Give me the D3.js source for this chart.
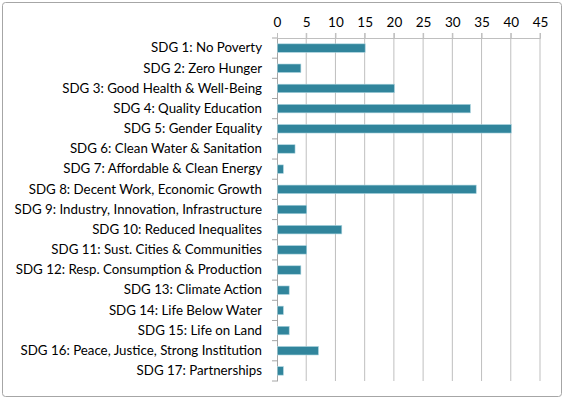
<!DOCTYPE html>
<html>
<head>
<meta charset="utf-8">
<script src="https://cdn.jsdelivr.net/npm/d3@7"></script>
<style>
  body { margin: 0; background: #fff; }
  text { font-family: Lato, "Open Sans", sans-serif; fill: #000; }
</style>
</head>
<body>
<div id="chart"></div>
<script>
const categories = [
  "SDG 1: No Poverty",
  "SDG 2: Zero Hunger",
  "SDG 3: Good Health & Well-Being",
  "SDG 4: Quality Education",
  "SDG 5: Gender Equality",
  "SDG 6: Clean Water & Sanitation",
  "SDG 7: Affordable & Clean Energy",
  "SDG 8: Decent Work, Economic Growth",
  "SDG 9: Industry, Innovation, Infrastructure",
  "SDG 10: Reduced Inequalites",
  "SDG 11: Sust. Cities & Communities",
  "SDG 12: Resp. Consumption & Production",
  "SDG 13: Climate Action",
  "SDG 14: Life Below Water",
  "SDG 15: Life on Land",
  "SDG 16: Peace, Justice, Strong Institution",
  "SDG 17: Partnerships "
];
const counts = [15, 4, 20, 33, 40, 3, 1, 34, 5, 11, 5, 4, 2, 1, 2, 7, 1];
const ticks = [0, 5, 10, 15, 20, 25, 30, 35, 40, 45];

const width = 566;
const height = 400;
const margin = {top: 38, right: 26, bottom: 19, left: 277};

const svg = d3.select("#chart").append("svg")
  .attr("width", width)
  .attr("height", height);

// outer frame
svg.append("rect")
  .attr("x", 2.5).attr("y", 2.5)
  .attr("width", 559).attr("height", 394)
  .attr("rx", 3)
  .attr("fill", "#fff")
  .attr("stroke", "#a6a6a6");

const x = d3.scaleLinear()
  .domain([0, 45])
  .range([margin.left, width - margin.right]);

const y = d3.scaleBand()
  .domain(categories)
  .range([margin.top, height - margin.bottom])
  .paddingInner(0.58)
  .paddingOuter(0.29);

const g = svg.append("g");

// vertical gridlines (extend above the top axis as outside ticks)
g.selectAll(".grid")
  .data(ticks.slice(1))
  .join("line")
  .attr("x1", d => x(d)).attr("x2", d => x(d))
  .attr("y1", margin.top - 5)
  .attr("y2", height - margin.bottom)
  .attr("stroke", "#bfbfbf")
  .attr("stroke-width", 1);

// top value axis
const xAxis = g.append("g")
  .attr("transform", `translate(0,${margin.top})`)
  .call(d3.axisTop(x).tickValues(ticks).tickSize(5).tickPadding(6));
xAxis.select(".domain").attr("stroke", "#bfbfbf");
xAxis.selectAll(".tick line").attr("stroke", "#bfbfbf");
xAxis.selectAll("text").attr("font-size", 13.5).attr("dy", "0");

// left category axis
const yAxis = g.append("g")
  .attr("transform", `translate(${margin.left},0)`)
  .call(d3.axisLeft(y).tickSize(0).tickPadding(15));
yAxis.select(".domain").attr("stroke", "#a6a6a6");
yAxis.selectAll("text").attr("font-size", 13.3);

// category separator ticks
const edges = d3.range(categories.length + 1).map(i => margin.top + i * y.step());
g.selectAll(".ctick")
  .data(edges)
  .join("line")
  .attr("x1", margin.left - 5).attr("x2", margin.left)
  .attr("y1", d => d).attr("y2", d => d)
  .attr("stroke", "#a6a6a6");

// bars
g.selectAll(".bar")
  .data(categories)
  .join("rect")
  .attr("x", x(0) + 0.5)
  .attr("y", d => y(d))
  .attr("width", (d, i) => x(counts[i]) - x(0))
  .attr("height", y.bandwidth())
  .attr("fill", "#31859c")
  .attr("stroke", "#a9d3de")
  .attr("stroke-width", 0.6);
</script>
</body>
</html>
